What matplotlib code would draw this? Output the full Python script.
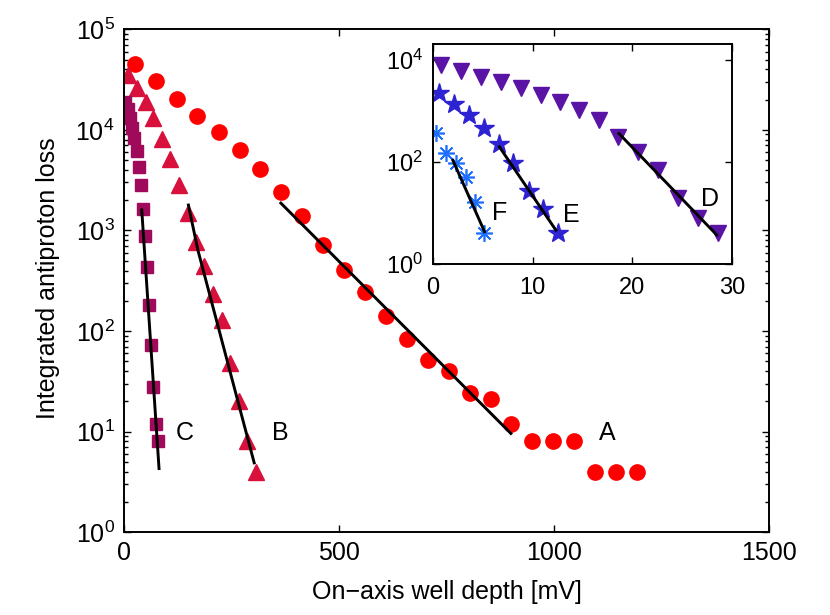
import numpy as np
import matplotlib.pyplot as plt
from matplotlib.ticker import LogLocator, FixedLocator, NullLocator, NullFormatter, LogFormatterMathtext

plt.rcParams['font.family'] = ['Liberation Sans', 'DejaVu Sans']
plt.rcParams['mathtext.fontset'] = 'custom'
plt.rcParams['mathtext.rm'] = 'Liberation Sans'
plt.rcParams['mathtext.it'] = 'Liberation Sans:italic'
plt.rcParams['mathtext.bf'] = 'Liberation Sans:bold'

# main panel: well depth [mV] vs integrated loss
a_depth = [24, 73, 122, 170, 219, 268, 316, 365, 414, 462, 511, 560, 608,
           657, 706, 754, 803, 852, 900, 949, 998, 1046, 1095, 1144, 1192]
a_loss = [45000, 30600, 20300, 13800, 9460, 6310, 4060, 2400, 1400, 718, 402,
          243, 141, 83, 52, 40, 24, 21, 12, 8, 8, 8, 4, 4, 4]
a_fit_depth = [364, 899]
a_fit_loss = [1870, 9.6]

b_depth = [9, 29, 50, 67, 87, 106, 127, 147, 167, 186, 207, 227, 246, 267, 286, 306]
b_loss = [35000, 26000, 19000, 13000, 8200, 5100, 2800, 1480, 770, 440, 234,
          129, 48, 20, 8, 4]
b_fit_depth = [149, 171, 302]
b_fit_loss = [1790, 640, 4.9]

c_depth = [1.6, 7.9, 13.3, 17.2, 22.6, 28.8, 34.2, 38.1, 42.8, 48.1, 53.5,
           58.1, 62.1, 67.4, 73, 79]
c_loss = [19100, 16100, 13200, 10500, 8250, 6170, 4300, 2830, 1640, 888, 437,
          182, 72, 28, 12, 8]
c_fit_depth = [40.5, 80.7]
c_fit_loss = [1600, 4.3]

# inset panel
d_depth = [0.77, 2.84, 4.84, 6.84, 8.84, 10.84, 12.77, 14.67, 16.67, 18.6,
           20.6, 22.6, 24.6, 26.6, 28.6]
d_loss = [7800, 6010, 4590, 3670, 2850, 2010, 1490, 1025, 653, 308, 157, 69,
          19.3, 7.8, 4]
d_fit_depth = [18.67, 28.5]
d_fit_loss = [359, 3.7]

e_depth = [0.57, 2.1, 3.6, 5.1, 6.6, 8.0, 9.6, 11.0, 12.54]
e_loss = [2230, 1340, 819, 470, 222, 93, 27, 11.7, 4]
e_fit_depth = [6.67, 12.34]
e_fit_loss = [196, 4.6]

f_depth = [0.34, 1.34, 2.27, 3.27, 4.17, 5.17]
f_loss = [359, 146, 96, 51, 16.5, 4]
f_fit_depth = [2.0, 5.17]
f_fit_loss = [107, 4.3]

colA = '#ff0000'
colB = '#d7103c'
colC = '#a00a5a'
colD = '#5a14a5'
colE = '#2d23d2'
colF = '#1e6eff'


def style_axes(ax, size, xpad, ypad):
    for s in ax.spines.values():
        s.set_linewidth(1.4)
    ax.tick_params(which='both', direction='in', top=True, right=True,
                   labelsize=size, width=1.0)
    ax.tick_params(axis='x', pad=xpad)
    ax.tick_params(axis='y', pad=ypad)
    ax.tick_params(which='major', length=5)
    ax.tick_params(which='minor', length=3)


fig = plt.figure(figsize=(8.3, 6.15), dpi=100)
ax = fig.add_axes([0.1498, 0.1345, 0.9269 - 0.1498, 0.9524 - 0.1345])

ax.plot(a_depth, a_loss, 'o', color=colA, mec=colA, ms=11, zorder=2)
ax.plot(b_depth, b_loss, '^', color=colB, mec=colB, ms=11.5, zorder=2)
ax.plot(c_depth, c_loss, 's', color=colC, mec=colC, ms=8, zorder=2)
for xs, ys in [(a_fit_depth, a_fit_loss), (b_fit_depth, b_fit_loss), (c_fit_depth, c_fit_loss)]:
    ax.plot(xs, ys, '-', color='k', lw=2.1, zorder=3)

ax.set_yscale('log')
ax.set_xlim(0, 1500)
ax.set_ylim(1, 1e5)
ax.xaxis.set_major_locator(FixedLocator([0, 500, 1000, 1500]))
ax.yaxis.set_major_locator(LogLocator(base=10, numticks=10))
ax.yaxis.set_minor_locator(LogLocator(base=10, subs=np.arange(2, 10), numticks=20))
ax.yaxis.set_minor_formatter(NullFormatter())
ax.yaxis.set_major_formatter(LogFormatterMathtext())
style_axes(ax, 18, 6, 7)
ax.set_xlabel('On\u2212axis well depth [mV]', fontsize=18)
ax.set_ylabel('Integrated antiproton loss', fontsize=18)
ax.xaxis.set_label_coords(0.5, -0.094)
ax.yaxis.set_label_coords(-0.1, 0.506)

ax.text(141, 9.8, 'C', fontsize=18, ha='center', va='center')
ax.text(362, 9.8, 'B', fontsize=18, ha='center', va='center')
ax.text(1122, 9.8, 'A', fontsize=18, ha='center', va='center')

# inset
ins = fig.add_axes([0.5217, 0.5707, 0.8816 - 0.5217, 0.928 - 0.5707])
ins.plot(d_depth, d_loss, 'v', color=colD, mec=colD, ms=11.5, zorder=2)
ins.plot(e_depth, e_loss, '*', color=colE, mec=colE, ms=15, zorder=2)
ins.plot(f_depth, f_loss, marker=(8, 2, 0), ls='none', color=colF, mec=colF,
         ms=12, mew=1.2, zorder=2)
for xs, ys in [(d_fit_depth, d_fit_loss), (e_fit_depth, e_fit_loss), (f_fit_depth, f_fit_loss)]:
    ins.plot(xs, ys, '-', color='k', lw=2.1, zorder=3)

ins.set_yscale('log')
ins.set_xlim(0, 30)
ins.set_ylim(1, 2e4)
ins.xaxis.set_major_locator(FixedLocator([0, 10, 20, 30]))
ins.yaxis.set_major_locator(FixedLocator([1, 1e2, 1e4]))
ins.yaxis.set_minor_locator(NullLocator())
ins.yaxis.set_major_formatter(LogFormatterMathtext())
style_axes(ins, 17, 9, 7)

ins.text(6.74, 9.8, 'F', fontsize=18, ha='center', va='center')
ins.text(13.84, 9.1, 'E', fontsize=18, ha='center', va='center')
ins.text(27.84, 19, 'D', fontsize=18, ha='center', va='center')

fig.savefig('out.png', dpi=100)
